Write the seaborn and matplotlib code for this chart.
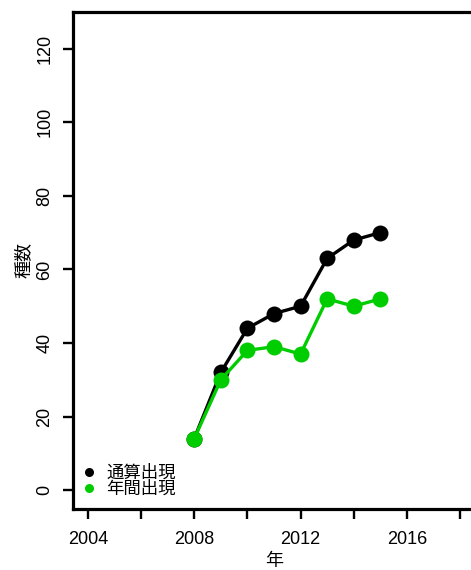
import matplotlib
matplotlib.use("Agg")
import matplotlib.pyplot as plt
import seaborn as sns
import pandas as pd
from matplotlib.lines import Line2D

years = [2008, 2009, 2010, 2011, 2012, 2013, 2014, 2015]
cumulative = [14, 32, 44, 48, 50, 63, 68, 70]
annual = [14, 30, 38, 39, 37, 52, 50, 52]
series_names = ["通算出現", "年間出現"]
x_ticks = [2004, 2006, 2008, 2010, 2012, 2014, 2016, 2018]
x_labels = ["2004", "", "2008", "", "2012", "", "2016", ""]
y_ticks = [0, 20, 40, 60, 80, 100, 120]

sns.set_style("ticks")
plt.rcParams['font.family'] = ['Liberation Sans', 'Noto Sans CJK JP', 'DejaVu Sans']
plt.rcParams['text.color'] = 'black'
plt.rcParams['axes.labelcolor'] = 'black'
plt.rcParams['xtick.color'] = 'black'
plt.rcParams['ytick.color'] = 'black'

BLACK = "#000000"
GREEN = "#00CD00"

fig = plt.figure(figsize=(4.71, 5.70), dpi=100)
ax = fig.add_axes([73/471, 1 - 508.5/570, 402/471, 496.5/570])

df = pd.DataFrame({"year": years + years,
                   "value": cumulative + annual,
                   "series": [series_names[0]] * len(years) + [series_names[1]] * len(years)})

for name, col in zip(series_names, [BLACK, GREEN]):
    sub = df[df["series"] == name]
    sns.lineplot(data=sub, x="year", y="value", color=col, marker="o",
                 markersize=11.5, markeredgewidth=0, linewidth=2.4, ax=ax,
                 legend=False)

ax.set_xlim(2003.44, 2018.56)
ax.set_ylim(-5, 130)
ax.set_xticks(x_ticks)
ax.set_xticklabels(x_labels)
ax.set_yticks(y_ticks)
ax.set_yticklabels([str(v) for v in y_ticks], rotation=90, va="center")
ax.tick_params(axis="both", length=7, width=1.7, labelsize=13, color="black", labelcolor="black")
ax.tick_params(axis="x", pad=9)
ax.tick_params(axis="y", pad=7)
for s in ["left", "bottom", "top", "right"]:
    ax.spines[s].set_visible(True)
    ax.spines[s].set_linewidth(2.3)
    ax.spines[s].set_color("black")

ax.set_xlabel("年", fontsize=13, labelpad=4, color="black")
ax.set_ylabel("種数", fontsize=13, labelpad=3, color="black")

handles = [Line2D([], [], linestyle="none", marker="o", color=BLACK, markersize=6.5, markeredgewidth=0),
           Line2D([], [], linestyle="none", marker="o", color=GREEN, markersize=6.5, markeredgewidth=0)]
leg = ax.legend(handles, series_names, loc="lower left", bbox_to_anchor=(-0.005, 0.0),
                frameon=False, fontsize=12.5, handlelength=0.8, handletextpad=0.6,
                labelspacing=0.0, borderpad=0.35, borderaxespad=0.3)
for t in leg.get_texts():
    t.set_color("black")

fig.savefig("out.png", dpi=100)
